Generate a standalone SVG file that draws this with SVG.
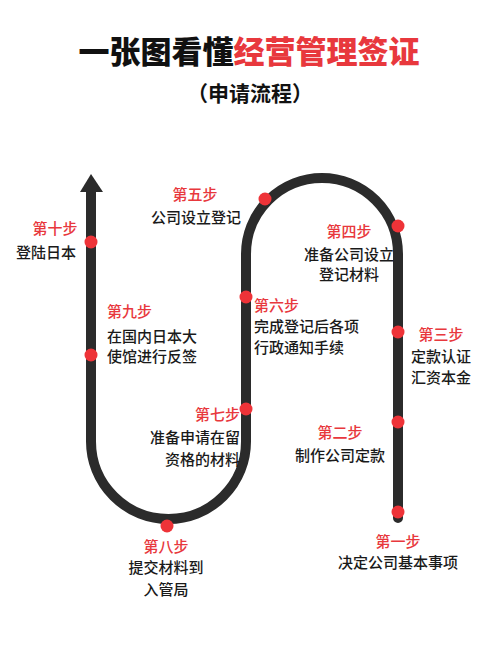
<svg xmlns="http://www.w3.org/2000/svg" width="500" height="654" viewBox="0 0 500 654">
<style>
.t{font-family:"Noto Sans CJK SC","Noto Sans",sans-serif;font-size:15px;font-weight:500;fill:#1a1a1a}
.r{font-family:"Noto Sans CJK SC","Noto Sans",sans-serif;font-size:15px;font-weight:500;fill:#e8383d}
.dot{fill:#ee3338}
.m{text-anchor:middle}
.e{text-anchor:end}
</style>
<rect width="500" height="654" fill="#ffffff"/>
<g id="title">
<text x="249" y="63" text-anchor="middle" font-family="Noto Sans CJK SC, sans-serif" font-size="31" font-weight="900"><tspan fill="#111">一张图看懂</tspan><tspan fill="#e8383d">经营管理签证</tspan></text>
<text x="250" y="101" text-anchor="middle" font-family="Noto Sans CJK SC, sans-serif" font-size="21" font-weight="700" fill="#111">（申请流程）</text>
</g>
<g id="connectors">
<path d="M398,518 L398,254 A76,76 0 0 0 246,254 L246,441.5 A77.5,77.5 0 0 1 91,441.5 L91,190" fill="none" stroke="#2b2b2b" stroke-width="10" stroke-linecap="round"/>
<polygon points="91,174 80,192 103,192" fill="#2b2b2b"/>
</g>
<g id="step1"><circle class="dot" cx="398" cy="512" r="6.5"/><text class="r m" x="398" y="547">第一步</text><text class="t m" x="398" y="568">决定公司基本事项</text></g>
<g id="step2"><circle class="dot" cx="398" cy="422" r="6.5"/><text class="r m" x="340" y="438">第二步</text><text class="t m" x="340" y="461">制作公司定款</text></g>
<g id="step3"><circle class="dot" cx="398" cy="332" r="6.5"/><text class="r m" x="441" y="340">第三步</text><text class="t m" x="441" y="362">定款认证</text><text class="t m" x="441" y="383">汇资本金</text></g>
<g id="step4"><circle class="dot" cx="398" cy="226" r="6.5"/><text class="r m" x="349" y="237">第四步</text><text class="t m" x="349" y="260">准备公司设立</text><text class="t m" x="349" y="280">登记材料</text></g>
<g id="step5"><circle class="dot" cx="265" cy="199" r="6.5"/><text class="r m" x="195" y="200">第五步</text><text class="t m" x="196" y="223">公司设立登记</text></g>
<g id="step6"><circle class="dot" cx="246" cy="297" r="6.5"/><text class="r" x="254" y="311">第六步</text><text class="t" x="254" y="332">完成登记后各项</text><text class="t" x="254" y="353">行政通知手续</text></g>
<g id="step7"><circle class="dot" cx="246" cy="409" r="6.5"/><text class="r e" x="240" y="420">第七步</text><text class="t e" x="240" y="443">准备申请在留</text><text class="t e" x="240" y="465">资格的材料</text></g>
<g id="step8"><circle class="dot" cx="167" cy="526" r="6.5"/><text class="r m" x="166" y="552">第八步</text><text class="t m" x="166" y="573">提交材料到</text><text class="t m" x="166" y="595">入管局</text></g>
<g id="step9"><circle class="dot" cx="91" cy="355" r="6.5"/><text class="r" x="107" y="317">第九步</text><text class="t" x="107" y="342">在国内日本大</text><text class="t" x="107" y="362">使馆进行反签</text></g>
<g id="step10"><circle class="dot" cx="91" cy="242" r="6.5"/><text class="r m" x="55" y="234">第十步</text><text class="t" x="16" y="258">登陆日本</text></g>
</svg>
